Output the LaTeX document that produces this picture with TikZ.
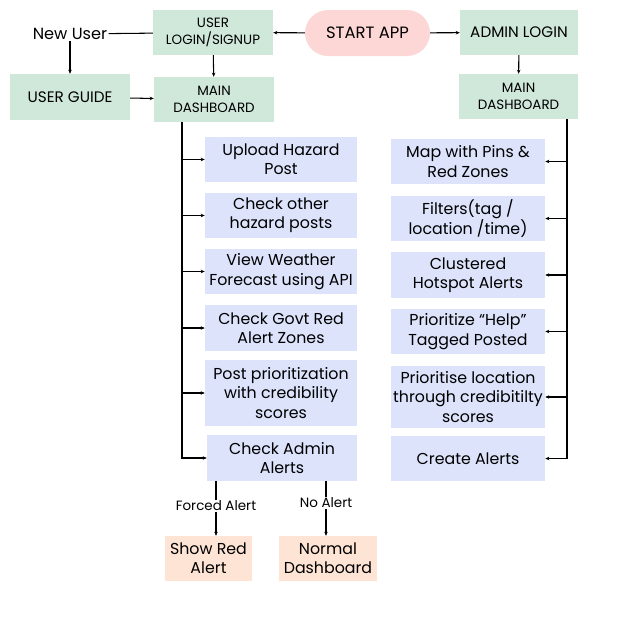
\documentclass[tikz,border=0pt]{standalone}
\usepackage{fontspec}
\setmainfont{Poppins}
\usetikzlibrary{positioning,arrows.meta}

\definecolor{loginGreen}{HTML}{CFE8DA}
\definecolor{taskBlue}{HTML}{DCE3FB}
\definecolor{startPink}{HTML}{FDD6D6}
\definecolor{alertPeach}{HTML}{FDE4D4}

\tikzset{
	flow/.style={-{Stealth[length=3.5pt,width=3pt]}, line width=0.9pt},
	link/.style={line width=0.9pt},
	greenbox/.style={fill=loginGreen, minimum width=3.6cm, minimum height=1.35cm, align=center, inner sep=0pt, font=\fontsize{11.5}{15}\selectfont},
	taskbox/.style={fill=taskBlue, minimum width=4.56cm, minimum height=1.35cm, align=center, inner sep=0pt, font=\fontsize{13.5}{16.5}\selectfont},
	alertbox/.style={fill=alertPeach, minimum height=1.35cm, align=center, inner sep=0pt, font=\fontsize{13.5}{16.5}\selectfont},
	tag/.style={inner sep=1pt, font=\fontsize{11.5}{13}\selectfont}
}

\begin{document}
\begin{tikzpicture}[x=0.03cm, y=-0.03cm]
	\useasboundingbox (0,0) rectangle (635,630);
	\pgfmathsetmacro{\LeftTrunk}{182}
	\pgfmathsetmacro{\RightTrunk}{567}
	% TOP ROW
	\node[greenbox] (login) at (213,32.5) {USER\\LOGIN/SIGNUP};
	\node[fill=startPink, rounded corners=0.69cm, minimum width=3.75cm, minimum height=1.38cm, inner sep=0pt, font=\fontsize{14}{16}\selectfont] (start) at (367.5,33) {START APP};
	\node[greenbox, minimum width=3.54cm, font=\fontsize{13}{15}\selectfont] (adminlogin) at (519,32.5) {ADMIN LOGIN};
	\node[font=\fontsize{13.8}{15}\selectfont, inner sep=1pt] (newuser) at (70,34) {New User};
	% SECOND ROW
	\node[greenbox, minimum height=1.38cm, font=\fontsize{13}{15}\selectfont] (guide) at (70,97) {USER GUIDE};
	\node[greenbox] (ldash) at (214,99.5) {MAIN\\DASHBOARD};
	\node[greenbox, minimum width=3.57cm] (rdash) at (518.5,96.5) {MAIN\\DASHBOARD};
	\draw[flow] (start) -- (login);
	\draw[flow] (start) -- (adminlogin);
	\draw[link] (login) -- (newuser);
	\draw[flow] (newuser) -- (guide);
	\draw[flow] (guide) -- (ldash);
	\draw[flow] (login) -- (ldash);
	\draw[flow] (adminlogin) -- (rdash);
	% USER SIDE
	\node[taskbox] (upload) at (281,159.5) {Upload Hazard\\Post};
	\node[taskbox] (others) at (281,215.5) {Check other\\hazard posts};
	\node[taskbox] (weather) at (281,271.5) {View Weather\\Forecast using API};
	\node[taskbox, minimum height=1.38cm] (govt) at (281,328) {Check Govt Red\\Alert Zones};
	\node[taskbox, minimum height=1.98cm] (prio) at (281,393) {Post prioritization\\with credibility\\scores};
	\node[taskbox, minimum width=4.5cm, minimum height=1.38cm] (alerts) at (282,458) {Check Admin\\Alerts};
	\coordinate (ltrunk) at (\LeftTrunk,0);
	\draw[flow] (ldash.south -| ltrunk) |- (alerts.west);
	\foreach \t in {upload,others,weather,govt,prio}
		\draw[flow] (ltrunk |- \t.west) -- (\t.west);
	% ADMIN SIDE
	\node[taskbox, minimum width=4.62cm] (pins) at (468,161.5) {Map with Pins \&\\Red Zones};
	\node[taskbox, minimum width=4.62cm] (filters) at (468,218.5) {Filters(tag /\\location /time)};
	\node[taskbox, minimum width=4.62cm, minimum height=1.38cm] (cluster) at (468,275) {Clustered\\Hotspot Alerts};
	\node[taskbox, minimum width=4.62cm] (help) at (468,331.5) {Prioritize “Help”\\Tagged Posted};
	\node[taskbox, minimum width=4.62cm, minimum height=1.86cm] (location) at (468,397) {Prioritise location\\through credibitilty\\scores};
	\node[taskbox, minimum width=4.62cm] (create) at (468,458.5) {Create Alerts};
	\coordinate (rtrunk) at (\RightTrunk,0);
	\draw[flow] (rdash.south -| rtrunk) |- (create.east);
	\foreach \t in {pins,filters,cluster,help,location}
		\draw[flow] (rtrunk |- \t.east) -- (\t.east);
	% ALERT OUTCOMES
	\node[tag] (forced) at (216,506) {Forced Alert};
	\node[tag] (noalert) at (326,503) {No Alert};
	\node[alertbox, minimum width=2.61cm] (showred) at (208.5,558.5) {Show Red\\Alert};
	\node[alertbox, minimum width=2.94cm] (normal) at (328,558.5) {Normal\\Dashboard};
	\draw[link] (alerts.south -| forced) -- (forced);
	\draw[flow] (forced) -- (forced |- showred.north);
	\draw[link] (alerts.south -| noalert) -- (noalert);
	\draw[flow] (noalert) -- (noalert |- normal.north);
\end{tikzpicture}
\end{document}
